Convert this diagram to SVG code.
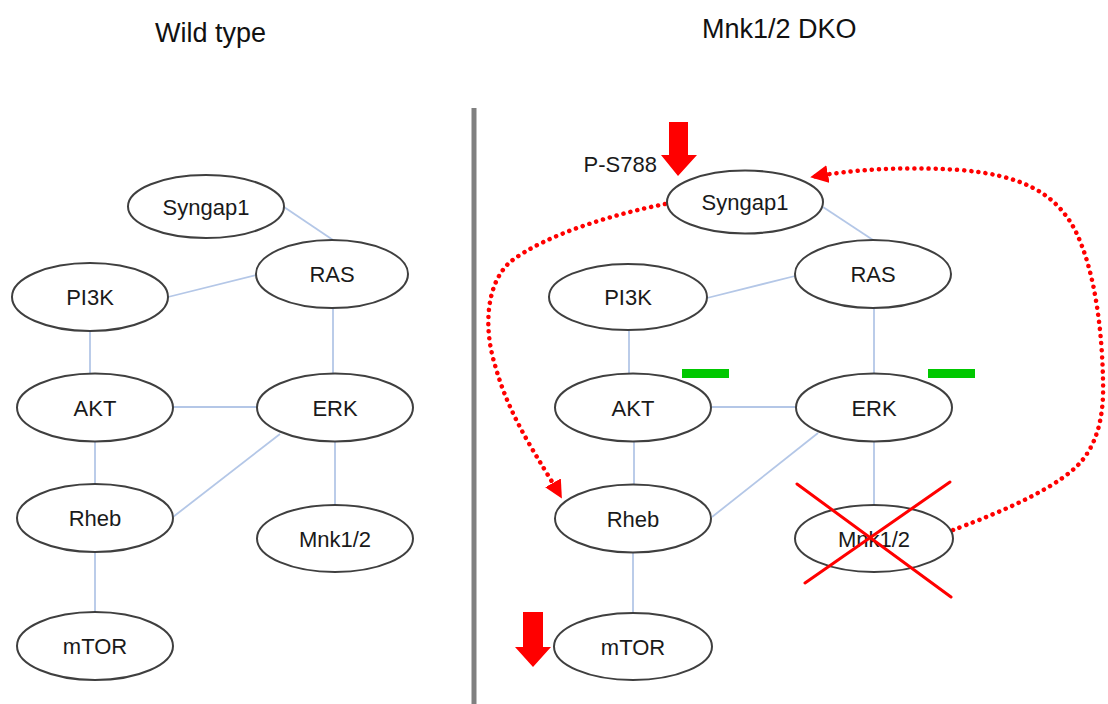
<svg xmlns="http://www.w3.org/2000/svg" width="1108" height="704" viewBox="0 0 1108 704">
  <defs>
    <style>
      .node ellipse { fill: #ffffff; stroke: #3f3f3f; stroke-width: 2; }
      .node text, .label { font-family: "Liberation Sans", Arial, sans-serif; font-size: 22px; fill: #1a1a1a; text-anchor: middle; }
      .title { font-family: "Liberation Sans", Arial, sans-serif; font-size: 27px; fill: #111111; }
      .link { stroke: #b4c7e7; stroke-width: 1.8; fill: none; }
      .dotted { stroke: #ff0000; stroke-width: 4.5; fill: none; stroke-dasharray: 0.1 7; stroke-linecap: round; }
      .bar { fill: #00c800; }
      .cross { stroke: #ff0000; stroke-width: 3; stroke-linecap: round; }
    </style>
    <marker id="redHead" viewBox="0 0 10 10" refX="9" refY="5" markerWidth="4" markerHeight="4" orient="auto" markerUnits="strokeWidth">
      <path d="M0,0 L10,5 L0,10 z" fill="#ff0000"/>
    </marker>
  </defs>

  <rect width="1108" height="704" fill="#ffffff"/>

  <!-- panel titles -->
  <text class="title" x="155" y="42">Wild type</text>
  <text class="title" x="702" y="38">Mnk1/2 DKO</text>

  <!-- divider between panels -->
  <rect x="471.5" y="108" width="5" height="596" fill="#808080"/>

  <!-- connectors -->
  <g id="connectors">
    <!-- wild type -->
    <line class="link" x1="284" y1="207" x2="333" y2="240"/>
    <line class="link" x1="256" y1="275" x2="168" y2="297"/>
    <line class="link" x1="333" y1="308" x2="333" y2="373"/>
    <line class="link" x1="90" y1="331" x2="90" y2="373"/>
    <line class="link" x1="173" y1="407" x2="257" y2="407"/>
    <line class="link" x1="95" y1="441" x2="95" y2="484"/>
    <line class="link" x1="280" y1="434" x2="173" y2="517"/>
    <line class="link" x1="335" y1="441" x2="335" y2="505"/>
    <line class="link" x1="95" y1="552" x2="95" y2="612"/>
    <!-- knockout -->
    <line class="link" x1="823" y1="207" x2="873" y2="240"/>
    <line class="link" x1="795" y1="276" x2="707" y2="298"/>
    <line class="link" x1="874" y1="308" x2="874" y2="373"/>
    <line class="link" x1="629" y1="331" x2="629" y2="373"/>
    <line class="link" x1="712" y1="407" x2="796" y2="407"/>
    <line class="link" x1="634" y1="441" x2="634" y2="485"/>
    <line class="link" x1="818" y1="433" x2="712" y2="517"/>
    <line class="link" x1="874" y1="441" x2="874" y2="505"/>
    <line class="link" x1="633" y1="552" x2="633" y2="613"/>
    <!-- feedback loops -->
    <path class="dotted" d="M665,204 C610,215 545,235 510,262 C485,285 484,330 495,365 C510,420 540,460 561,497" marker-end="url(#redHead)"/>
    <path class="dotted" d="M953,530 C985,518 1045,495 1075,468 C1100,445 1104,410 1103,380 C1102,330 1095,270 1075,230 C1055,192 1020,175 960,170 C900,166 850,170 812,177" marker-end="url(#redHead)"/>
  </g>

  <!-- wild type nodes -->
  <g id="wt-syngap1" class="node"><ellipse cx="206" cy="206.5" rx="78" ry="31.5"/><text x="206" y="215">Syngap1</text></g>
  <g id="wt-ras" class="node"><ellipse cx="332" cy="274" rx="76" ry="34"/><text x="332" y="282">RAS</text></g>
  <g id="wt-pi3k" class="node"><ellipse cx="90" cy="297" rx="78" ry="34"/><text x="90" y="305">PI3K</text></g>
  <g id="wt-akt" class="node"><ellipse cx="95" cy="407.5" rx="78" ry="34"/><text x="95" y="415.5">AKT</text></g>
  <g id="wt-erk" class="node"><ellipse cx="335" cy="407.5" rx="78" ry="34"/><text x="335" y="415.5">ERK</text></g>
  <g id="wt-rheb" class="node"><ellipse cx="95" cy="518" rx="78" ry="34"/><text x="95" y="526">Rheb</text></g>
  <g id="wt-mnk" class="node"><ellipse cx="335" cy="538.5" rx="78" ry="33.5"/><text x="335" y="546.5">Mnk1/2</text></g>
  <g id="wt-mtor" class="node"><ellipse cx="95" cy="646" rx="78" ry="34"/><text x="95" y="654">mTOR</text></g>

  <!-- knockout nodes -->
  <g id="ko-syngap1" class="node"><ellipse cx="745" cy="202" rx="78" ry="31.5"/><text x="745" y="210">Syngap1</text></g>
  <g id="ko-ras" class="node"><ellipse cx="873" cy="274" rx="78" ry="34"/><text x="873" y="282">RAS</text></g>
  <g id="ko-pi3k" class="node"><ellipse cx="628" cy="297" rx="79" ry="33"/><text x="628" y="305">PI3K</text></g>
  <g id="ko-akt" class="node"><ellipse cx="633" cy="407.5" rx="78" ry="34"/><text x="633" y="415.5">AKT</text></g>
  <g id="ko-erk" class="node"><ellipse cx="874" cy="407.5" rx="78" ry="34"/><text x="874" y="415.5">ERK</text></g>
  <g id="ko-rheb" class="node"><ellipse cx="633" cy="518.5" rx="78" ry="34"/><text x="633" y="526.5">Rheb</text></g>
  <g id="ko-mnk" class="node"><ellipse cx="874" cy="538.5" rx="79" ry="33.5"/><text x="874" y="546.5">Mnk1/2</text></g>
  <g id="ko-mtor" class="node"><ellipse cx="633" cy="646.5" rx="79" ry="33.5"/><text x="633" y="654.5">mTOR</text></g>

  <!-- knockout marker over Mnk1/2 -->
  <g id="ko-cross">
    <line class="cross" x1="797" y1="484" x2="951" y2="597"/>
    <line class="cross" x1="950" y1="482" x2="805" y2="583"/>
  </g>

  <!-- reduced-activity bars -->
  <g id="bars">
    <rect class="bar" x="682" y="369" width="47" height="9"/>
    <rect class="bar" x="928" y="369" width="47" height="9"/>
  </g>

  <!-- down arrows -->
  <g id="arrow-ps788">
    <path d="M669,122 H688 V155 H697 L678,176 L661,155 H669 Z" fill="#ff0000"/>
    <text class="label" x="657" y="172" style="text-anchor:end">P-S788</text>
  </g>
  <g id="arrow-mtor">
    <path d="M523,612 H543 V647 H551 L533,667 L515,647 H523 Z" fill="#ff0000"/>
  </g>
</svg>
